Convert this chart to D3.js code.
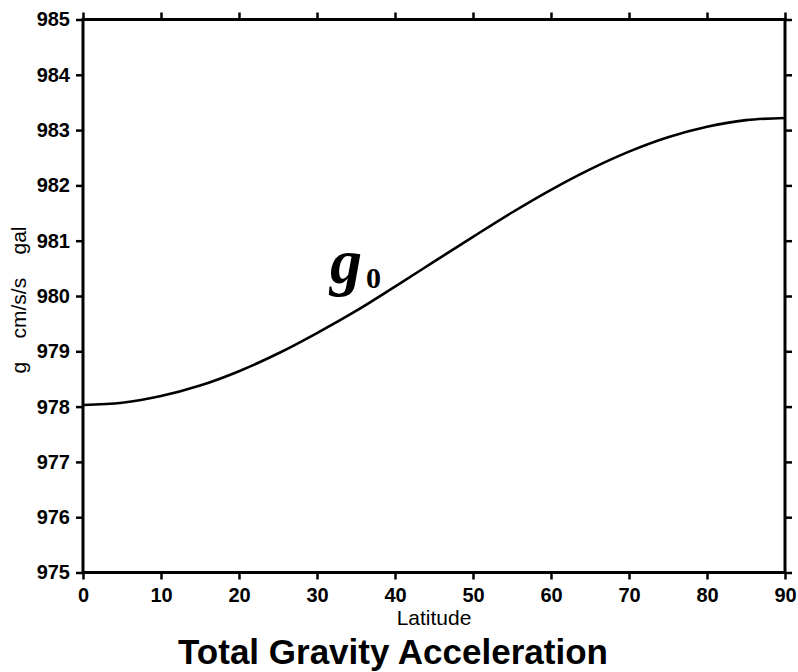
<!DOCTYPE html>
<html>
<head>
<meta charset="utf-8">
<script src="https://cdn.jsdelivr.net/npm/d3@7"></script>
<style>
  html, body { margin: 0; padding: 0; background: #fff; }
  svg { display: block; }
</style>
</head>
<body>
<svg id="chart" width="798" height="672"></svg>
<script>
// Data
const latitude = [0, 5, 10, 15, 20, 25, 30, 35, 40, 45, 50, 55, 60, 65, 70, 75, 80, 85, 90];
const gravity  = [978.03, 978.07, 978.19, 978.38, 978.64, 978.96, 979.33, 979.73, 980.17, 980.62,
                  981.07, 981.51, 981.92, 982.29, 982.61, 982.87, 983.06, 983.18, 983.22];
const xTicks = [0, 10, 20, 30, 40, 50, 60, 70, 80, 90];
const yTicks = [975, 976, 977, 978, 979, 980, 981, 982, 983, 984, 985];
const xDomain = [0, 90];
const yDomain = [975, 985];

const svg = d3.select("#chart");
const L = 83, R = 785, T = 19.5, B = 572.5;
const x = d3.scaleLinear().domain(xDomain).range([L, R]);
const y = d3.scaleLinear().domain(yDomain).range([B, T]);

const sans = "'Liberation Sans', Arial, sans-serif";

// frame
svg.append("rect").attr("x", L).attr("y", T).attr("width", R - L).attr("height", B - T)
  .attr("fill", "none").attr("stroke", "#000").attr("stroke-width", 3);

function styleAxis(g) {
  g.select(".domain").remove();
  g.selectAll(".tick line").attr("stroke", "#000").attr("stroke-width", 2.5);
  g.selectAll(".tick text").attr("fill", "#000").attr("font-family", sans)
    .attr("font-weight", "bold").attr("font-size", 20);
}

// bottom axis
svg.append("g").attr("transform", `translate(0,${B})`)
  .call(d3.axisBottom(x).tickValues(xTicks).tickFormat(d3.format("d")).tickSize(7).tickPadding(8))
  .call(styleAxis);
// top axis (ticks only)
svg.append("g").attr("transform", `translate(0,${T})`)
  .call(d3.axisTop(x).tickValues(xTicks).tickFormat("").tickSize(7))
  .call(styleAxis);
// left axis
svg.append("g").attr("transform", `translate(${L},0)`)
  .call(d3.axisLeft(y).tickValues(yTicks).tickFormat(d3.format("d")).tickSize(7).tickPadding(6))
  .call(styleAxis);
// right axis (ticks only)
svg.append("g").attr("transform", `translate(${R},0)`)
  .call(d3.axisRight(y).tickValues(yTicks).tickFormat("").tickSize(7))
  .call(styleAxis);

// curve
const pts = latitude.map((d, i) => [d, gravity[i]]);
svg.append("path").datum(pts)
  .attr("fill", "none").attr("stroke", "#000").attr("stroke-width", 2.6)
  .attr("d", d3.line().x(d => x(d[0])).y(d => y(d[1])).curve(d3.curveMonotoneX));

// axis titles
svg.append("text").attr("x", 434).attr("y", 625)
  .attr("text-anchor", "middle").attr("font-family", sans).attr("font-size", 21)
  .text("Latitude");

svg.append("text").attr("transform", "translate(26,300) rotate(-90)")
  .attr("text-anchor", "middle").attr("font-family", sans).attr("font-size", 21)
  .style("white-space", "pre")
  .text("g    cm/s/s    gal");

// title
svg.append("text").attr("x", 393).attr("y", 664)
  .attr("text-anchor", "middle").attr("font-family", sans).attr("font-weight", "bold")
  .attr("font-size", 35).text("Total Gravity Acceleration");

// g0 annotation
const ann = svg.append("text").attr("x", 330).attr("y", 283)
  .attr("font-family", "'Liberation Serif', 'Times New Roman', serif").attr("font-weight", "bold");
ann.append("tspan").attr("font-style", "italic").attr("font-size", 64).text("g");
ann.append("tspan").attr("font-size", 30).attr("dx", 4).attr("dy", 5).text("0");
</script>
</body>
</html>
